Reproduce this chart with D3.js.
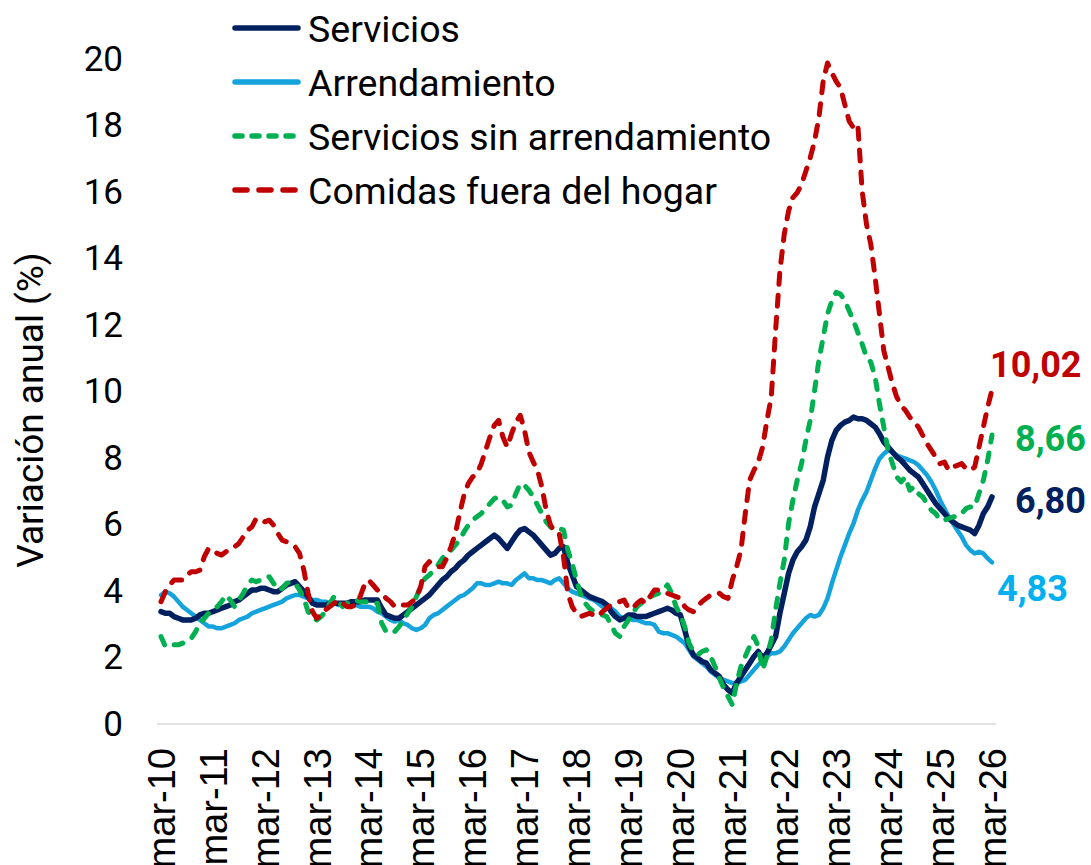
<html>
<head>
    <meta charset="utf-8">
    <script src="https://d3js.org/d3.v7.min.js"></script>
</head>
<style>
    body { margin: 0; background: white; }
    .chart { font-family: "Roboto"; }
    .ytick { font-size: 35px; fill: #000; }
    .xtick { font-family: "Liberation Sans"; font-size: 38px; fill: #000; }
    .legend text { font-size: 37.5px; fill: #000; }
    .endlabel { font-size: 36px; font-weight: bold; }
</style>
<body>
<svg id="chart" class="chart" width="1091" height="865"></svg>
<script>
    // monthly series, mar-10 .. mar-26 (% annual change)
    const servicios = [
        3.35,3.3,3.3,3.2,3.15,3.1,3.1,3.1,3.15,3.25,3.3,3.3,
        3.35,3.4,3.45,3.5,3.55,3.65,3.7,3.8,3.9,4.0,4.0,4.05,
        4.05,4.0,3.95,3.95,4.05,4.15,4.2,4.25,4.1,3.95,3.8,3.6,
        3.55,3.55,3.55,3.6,3.6,3.6,3.6,3.6,3.65,3.65,3.65,3.7,
        3.7,3.7,3.7,3.45,3.25,3.2,3.15,3.15,3.25,3.35,3.45,3.55,
        3.65,3.75,3.85,4.0,4.15,4.3,4.4,4.55,4.65,4.8,4.9,5.05,
        5.15,5.25,5.35,5.45,5.55,5.65,5.55,5.4,5.25,5.45,5.65,5.8,
        5.85,5.75,5.65,5.5,5.35,5.2,5.05,5.1,5.25,5.3,4.8,4.45,
        4.1,4.0,3.9,3.8,3.75,3.7,3.65,3.55,3.35,3.2,3.1,3.15,
        3.25,3.25,3.2,3.2,3.2,3.25,3.3,3.35,3.4,3.45,3.4,3.3,
        3.25,2.8,2.3,2.05,1.95,1.85,1.8,1.6,1.5,1.4,1.15,1.0,
        0.9,1.2,1.4,1.6,1.8,2.0,2.15,1.95,2.1,2.35,2.6,3.3,
        3.9,4.5,4.9,5.15,5.3,5.5,5.9,6.5,6.9,7.3,8.0,8.5,
        8.8,8.95,9.05,9.1,9.2,9.15,9.15,9.1,9.0,8.9,8.7,8.45,
        8.3,8.15,8.0,7.9,7.75,7.6,7.5,7.4,7.2,7.0,6.8,6.6,
        6.45,6.3,6.15,6.05,5.95,5.9,5.85,5.8,5.7,5.95,6.3,6.5,
        6.8
    ];
    const arrendamiento = [
        3.85,3.95,3.9,3.8,3.65,3.5,3.4,3.3,3.2,3.1,3.0,2.9,
        2.9,2.85,2.85,2.9,2.95,3.0,3.1,3.15,3.2,3.3,3.35,3.4,
        3.45,3.5,3.55,3.6,3.65,3.75,3.8,3.85,3.85,3.8,3.75,3.7,
        3.7,3.65,3.65,3.6,3.6,3.55,3.55,3.55,3.55,3.55,3.5,3.5,
        3.5,3.45,3.35,3.3,3.2,3.1,3.05,3.1,3.0,2.95,2.85,2.8,
        2.85,2.95,3.15,3.25,3.3,3.4,3.5,3.6,3.7,3.8,3.85,3.95,
        4.05,4.2,4.2,4.15,4.15,4.2,4.25,4.2,4.2,4.15,4.3,4.4,
        4.5,4.35,4.35,4.3,4.3,4.25,4.2,4.3,4.35,4.2,4.05,3.95,
        3.9,3.85,3.8,3.75,3.7,3.6,3.5,3.5,3.45,3.35,3.2,3.15,
        3.15,3.1,3.1,3.05,3.0,3.0,2.95,2.75,2.7,2.7,2.65,2.6,
        2.5,2.4,2.2,2.0,1.9,1.8,1.7,1.55,1.45,1.35,1.3,1.25,
        1.2,1.2,1.25,1.3,1.45,1.6,1.75,1.85,2.0,2.1,2.1,2.15,
        2.3,2.5,2.7,2.85,3.0,3.15,3.25,3.2,3.25,3.45,3.75,4.2,
        4.6,5.0,5.35,5.7,6.0,6.4,6.7,6.95,7.3,7.65,7.95,8.1,
        8.2,8.15,8.05,8.0,7.95,7.9,7.85,7.75,7.6,7.45,7.25,7.0,
        6.7,6.45,6.2,6.0,5.8,5.6,5.35,5.2,5.1,5.15,5.1,4.95,
        4.83
    ];
    const sinArrendamiento = [
        2.6,2.3,2.3,2.35,2.35,2.4,2.45,2.55,2.75,3.0,3.15,3.3,
        3.4,3.5,3.65,3.85,3.7,3.5,3.7,3.9,4.15,4.3,4.25,4.3,
        4.4,4.4,4.2,4.0,4.05,4.2,4.25,4.2,4.0,3.75,3.35,3.15,
        3.1,3.2,3.35,3.6,3.8,3.65,3.5,3.6,3.7,3.7,3.65,3.65,
        3.65,3.6,3.6,3.0,2.75,2.7,2.75,2.9,3.1,3.3,3.5,3.8,
        4.1,4.35,4.45,4.6,4.75,4.95,5.1,5.2,5.35,5.5,5.75,5.95,
        6.1,6.2,6.3,6.45,6.6,6.75,6.8,6.7,6.5,6.55,6.9,7.2,
        7.15,7.0,6.8,6.55,6.3,6.05,5.9,5.8,5.85,5.8,5.2,4.8,
        4.3,3.85,3.6,3.45,3.35,3.3,3.25,3.2,2.95,2.7,2.6,2.9,
        3.1,3.3,3.5,3.6,3.7,3.8,3.85,3.9,4.0,4.15,3.9,3.5,
        3.25,2.9,2.4,2.15,2.05,2.15,2.2,2.0,1.7,1.35,1.05,0.8,
        0.55,1.2,1.7,2.0,2.3,2.6,2.3,1.6,2.0,2.5,3.4,4.2,
        4.9,6.0,6.7,7.3,7.8,8.5,9.1,10.0,10.9,11.6,12.3,12.7,
        12.95,12.9,12.7,12.4,12.1,11.75,11.4,11.0,10.85,10.4,9.6,8.9,
        8.2,7.8,7.4,7.25,7.4,7.0,7.1,6.9,6.8,6.6,6.4,6.3,
        6.1,6.1,6.15,6.2,6.2,6.3,6.45,6.5,6.5,6.9,7.3,7.9,
        8.66
    ];
    const comidasFuera = [
        3.65,3.95,4.15,4.3,4.3,4.3,4.45,4.55,4.55,4.6,5.0,5.25,
        5.2,5.1,5.05,5.15,5.25,5.3,5.4,5.6,5.8,5.9,6.15,6.1,
        6.05,6.1,5.95,5.7,5.5,5.45,5.4,5.3,5.1,4.6,3.9,3.35,
        3.15,3.25,3.4,3.5,3.6,3.7,3.6,3.5,3.5,3.55,3.8,4.15,
        4.3,4.15,4.0,3.9,3.75,3.65,3.5,3.55,3.55,3.55,3.65,3.75,
        4.1,4.7,4.85,4.75,4.7,4.7,4.95,5.3,5.7,6.3,6.85,7.2,
        7.4,7.5,7.8,8.2,8.6,8.95,9.1,8.6,8.3,8.7,9.05,9.25,
        8.8,8.15,7.85,7.6,7.1,6.4,5.95,5.75,5.7,5.0,3.9,3.5,
        3.3,3.2,3.25,3.3,3.25,3.2,3.35,3.45,3.55,3.6,3.65,3.7,
        3.45,3.45,3.6,3.7,3.6,3.8,4.0,4.0,3.95,3.9,3.85,3.8,
        3.75,3.5,3.4,3.35,3.5,3.65,3.75,3.85,3.9,3.9,3.8,3.75,
        4.3,4.7,5.2,6.3,7.3,7.6,7.85,8.3,9.1,9.8,11.8,13.6,
        14.7,15.4,15.8,15.95,16.2,16.6,17.0,17.5,18.2,19.3,19.85,19.55,
        19.3,19.1,18.6,18.1,17.9,18.0,16.0,15.0,14.4,13.4,12.3,11.2,
        10.7,10.2,9.8,9.55,9.4,9.2,9.05,8.9,8.65,8.4,8.2,8.0,
        7.8,7.85,7.6,7.7,7.75,7.8,7.65,7.6,7.7,8.3,8.9,9.5,
        10.02
    ];

    const mesesAbrev = ["ene","feb","mar","abr","may","jun","jul","ago","sep","oct","nov","dic"];
    const fechas = servicios.map((d, i) => mesesAbrev[(2 + i) % 12] + "-" + (10 + Math.floor((2 + i) / 12)));
    const yTicks = [0, 2, 4, 6, 8, 10, 12, 14, 16, 18, 20];

    const series = [
        { name: "Servicios", values: servicios, color: "#002060", width: 5.5, dash: null, legDash: null, label: "6,80", labelColor: "#002060", lx: 1015, ly: 500 },
        { name: "Arrendamiento", values: arrendamiento, color: "#14A3DC", width: 4.5, dash: null, legDash: null, label: "4,83", labelColor: "#00B0F0", lx: 997, ly: 588 },
        { name: "Servicios sin arrendamiento", values: sinArrendamiento, color: "#00B050", width: 5, dash: "9,11", legDash: "7,10", label: "8,66", labelColor: "#00B050", lx: 1015, ly: 438 },
        { name: "Comidas fuera del hogar", values: comidasFuera, color: "#C00000", width: 5, dash: "11,11", legDash: "12,12", label: "10,02", labelColor: "#C00000", lx: 990, ly: 364 }
    ];

    const svg = d3.select("svg#chart");
    const x = d3.scalePoint().domain(fechas).range([161, 992]);
    const y = d3.scaleLinear().domain([0, 20]).range([723, 58]);

    // x axis line
    svg.append("line")
        .attr("x1", 157).attr("x2", 996)
        .attr("y1", y(0) + 1).attr("y2", y(0) + 1)
        .attr("stroke", "#d9d9d9").attr("stroke-width", 1.5);

    // y tick labels
    svg.selectAll("text.ytick").data(yTicks).join("text")
        .attr("class", "ytick")
        .attr("x", 123).attr("y", d => y(d))
        .attr("dy", "0.36em")
        .attr("text-anchor", "end")
        .text(d => d);

    // x tick labels, one per march
    const marzos = fechas.filter(d => d.startsWith("mar"));
    svg.selectAll("text.xtick").data(marzos).join("text")
        .attr("class", "xtick")
        .attr("transform", d => "translate(" + x(d) + ",748) rotate(-90)")
        .attr("dy", "0.36em")
        .attr("text-anchor", "end")
        .text(d => d);

    // y axis title
    svg.append("text")
        .attr("transform", "translate(30,410) rotate(-90)")
        .attr("dy", "0.36em")
        .attr("text-anchor", "middle")
        .style("font-size", "37px")
        .text("Variación anual (%)");

    const line = d3.line()
        .x((d, i) => x(fechas[i]))
        .y(d => y(d));

    // draw solid lines first, dashed on top
    const order = [1, 0, 2, 3];
    order.forEach(k => {
        const s = series[k];
        svg.append("path").datum(s.values)
            .attr("fill", "none")
            .attr("stroke", s.color)
            .attr("stroke-width", s.width)
            .attr("stroke-linejoin", "round")
            .attr("stroke-linecap", "round")
            .attr("stroke-dasharray", s.dash)
            .attr("d", line);
    });

    // end labels
    series.forEach(s => {
        svg.append("text")
            .attr("class", "endlabel")
            .attr("x", s.lx).attr("y", s.ly)
            .attr("dy", "0.36em")
            .attr("fill", s.labelColor)
            .text(s.label);
    });

    // legend
    const legend = svg.append("g").attr("class", "legend");
    series.forEach((s, i) => {
        const ly = 28 + i * 54;
        legend.append("line")
            .attr("x1", 235).attr("x2", 298)
            .attr("y1", ly).attr("y2", ly)
            .attr("stroke", s.color)
            .attr("stroke-width", 5.5)
            .attr("stroke-linecap", "round")
            .attr("stroke-dasharray", s.legDash);
        legend.append("text")
            .attr("x", 308).attr("y", ly)
            .attr("dy", "0.36em")
            .text(s.name);
    });
</script>
</body>
</html>
